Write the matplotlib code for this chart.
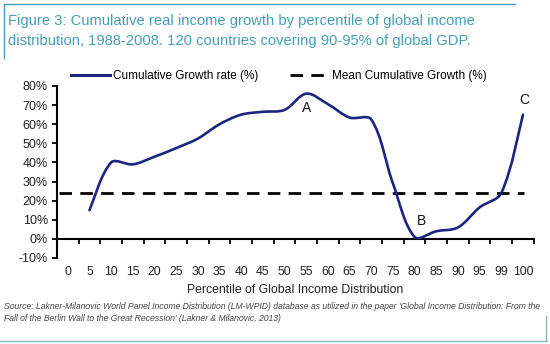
import numpy as np
import matplotlib
matplotlib.use("Agg")
import matplotlib.pyplot as plt
from matplotlib.path import Path
from matplotlib.patches import PathPatch
from matplotlib.lines import Line2D

plt.rcParams['font.family'] = ['Liberation Sans', 'DejaVu Sans']

# categorical x axis (percentiles)
percentiles = ['0', '5', '10', '15', '20', '25', '30', '35', '40', '45', '50',
               '55', '60', '65', '70', '75', '80', '85', '90', '95', '99', '100']
# cumulative growth (%) for percentiles 5 .. 100
growth_pct = ['5', '10', '15', '20', '25', '30', '35', '40', '45', '50', '55',
              '60', '65', '70', '75', '80', '85', '90', '95', '99', '100']
growth = [15, 40, 39, 43, 47.5, 52.5, 60, 65, 66.5, 67.5, 76,
          70.5, 63.5, 62.5, 29, 1, 4, 6, 16.5, 24, 65]
mean_growth = 24.2

point_labels = ['A', 'B', 'C']
label_x = [11, 16.3, 21.05]
label_y = [68.3, 9.2, 72.7]

title = ("Figure 3: Cumulative real income growth by percentile of global income\n"
         "distribution, 1988-2008. 120 countries covering 90-95% of global GDP.")
source = ("Source: Lakner-Milanovic World Panel Income Distribution (LM-WPID) database as utilized in the paper "
          "'Global Income Distribution: From the\nFall of the Berlin Wall to the Great Recession' "
          "(Lakner & Milanovic, 2013)")

navy = '#1c2580'
teal = '#44a0b6'

fig = plt.figure(figsize=(5.5, 3.44), dpi=100)
ax = fig.add_axes([0.1036, 0.25, 0.867, 0.5])

# smoothed line, bezier control arms weighted by segment length (Excel-like)
xs = np.array([percentiles.index(p) for p in growth_pct], dtype=float)
ys = np.array(growth, dtype=float)
scale = np.array([21.6, 1.91])  # approx pixels per unit on each axis
pts = np.column_stack([xs, ys])
n = len(pts)
seg = [np.hypot(*((pts[i + 1] - pts[i]) * scale)) for i in range(n - 1)]
verts = [pts[0]]
codes = [Path.MOVETO]
for i in range(n - 1):
    p1, p2 = pts[i], pts[i + 1]
    p0 = pts[i - 1] if i > 0 else p1
    p3 = pts[i + 2] if i + 2 < n else p2
    d01 = seg[i - 1] if i > 0 else seg[i]
    d23 = seg[i + 1] if i + 2 < n else seg[i]
    d12 = seg[i]
    c1 = p1 + (p2 - p0) * d12 / (d01 + d12) / 3.0
    c2 = p2 - (p3 - p1) * d12 / (d12 + d23) / 3.0
    verts += [c1, c2, p2]
    codes += [Path.CURVE4] * 3
ax.add_patch(PathPatch(Path(verts, codes), facecolor='none', edgecolor=navy,
                       lw=1.9, capstyle='round', joinstyle='round', zorder=3))
ax.plot([], [], color=navy, lw=2.2, label='Cumulative Growth rate (%)')

ax.axhline(mean_growth, xmin=0.004, xmax=0.98, color='black', lw=2.0,
           dashes=(4.5, 3), label='Mean Cumulative Growth (%)')

for t, x, y in zip(point_labels, label_x, label_y):
    ax.text(x, y, t, ha='center', va='center', fontsize=10, color='#111111')

ax.set_xlim(-0.5, 21.5)
ax.set_ylim(-10, 80)
ax.set_yticks(np.arange(-10, 81, 10))
ax.set_yticklabels([f'{v}%' for v in range(-10, 81, 10)], fontsize=9, color='#222222')
ax.set_xticks(range(len(percentiles)))
ax.set_xticklabels(percentiles, fontsize=8.7, color='#222222')
ax.tick_params(axis='x', length=0, pad=6)
ax.tick_params(axis='y', direction='out', length=3.5, width=1.3, pad=3)
for s in ['top', 'right', 'bottom']:
    ax.spines[s].set_visible(False)
ax.spines['left'].set_linewidth(1.5)

# zero line with category-boundary ticks
sec = ax.secondary_xaxis(0, transform=ax.transData)
sec.set_xticks(np.arange(0.5, 21.6, 1))
sec.set_xticklabels([])
sec.tick_params(direction='out', length=3.5, width=1.3)
sec.spines['bottom'].set_linewidth(1.5)

ax.set_xlabel('Percentile of Global Income Distribution', fontsize=8.8,
              color='#222222', labelpad=4)

fig.legend(loc='center', bbox_to_anchor=(0.507, 0.778), ncol=2, frameon=False,
           fontsize=8.5, handlelength=3.3, columnspacing=2.6, handletextpad=0.3)

fig.text(0.015, 0.958, title, ha='left', va='top', fontsize=10.6, color=teal,
         linespacing=1.5)
fig.text(0.008, 0.122, source, ha='left', va='top', fontsize=6.25,
         style='italic', color='#444444', linespacing=1.45)

# panel borders
fig.add_artist(Line2D([0.007, 0.937], [0.988, 0.988], color=teal, lw=1.0))
fig.add_artist(Line2D([0.008, 0.008], [0.988, 0.83], color=teal, lw=1.0))
fig.add_artist(Line2D([0.0, 0.994], [0.01, 0.01], color='#88b9c4', lw=1.0))
fig.add_artist(Line2D([0.993, 0.993], [0.01, 0.08], color='#88b9c4', lw=1.0))

fig.savefig('out.png', dpi=100, facecolor='white')
